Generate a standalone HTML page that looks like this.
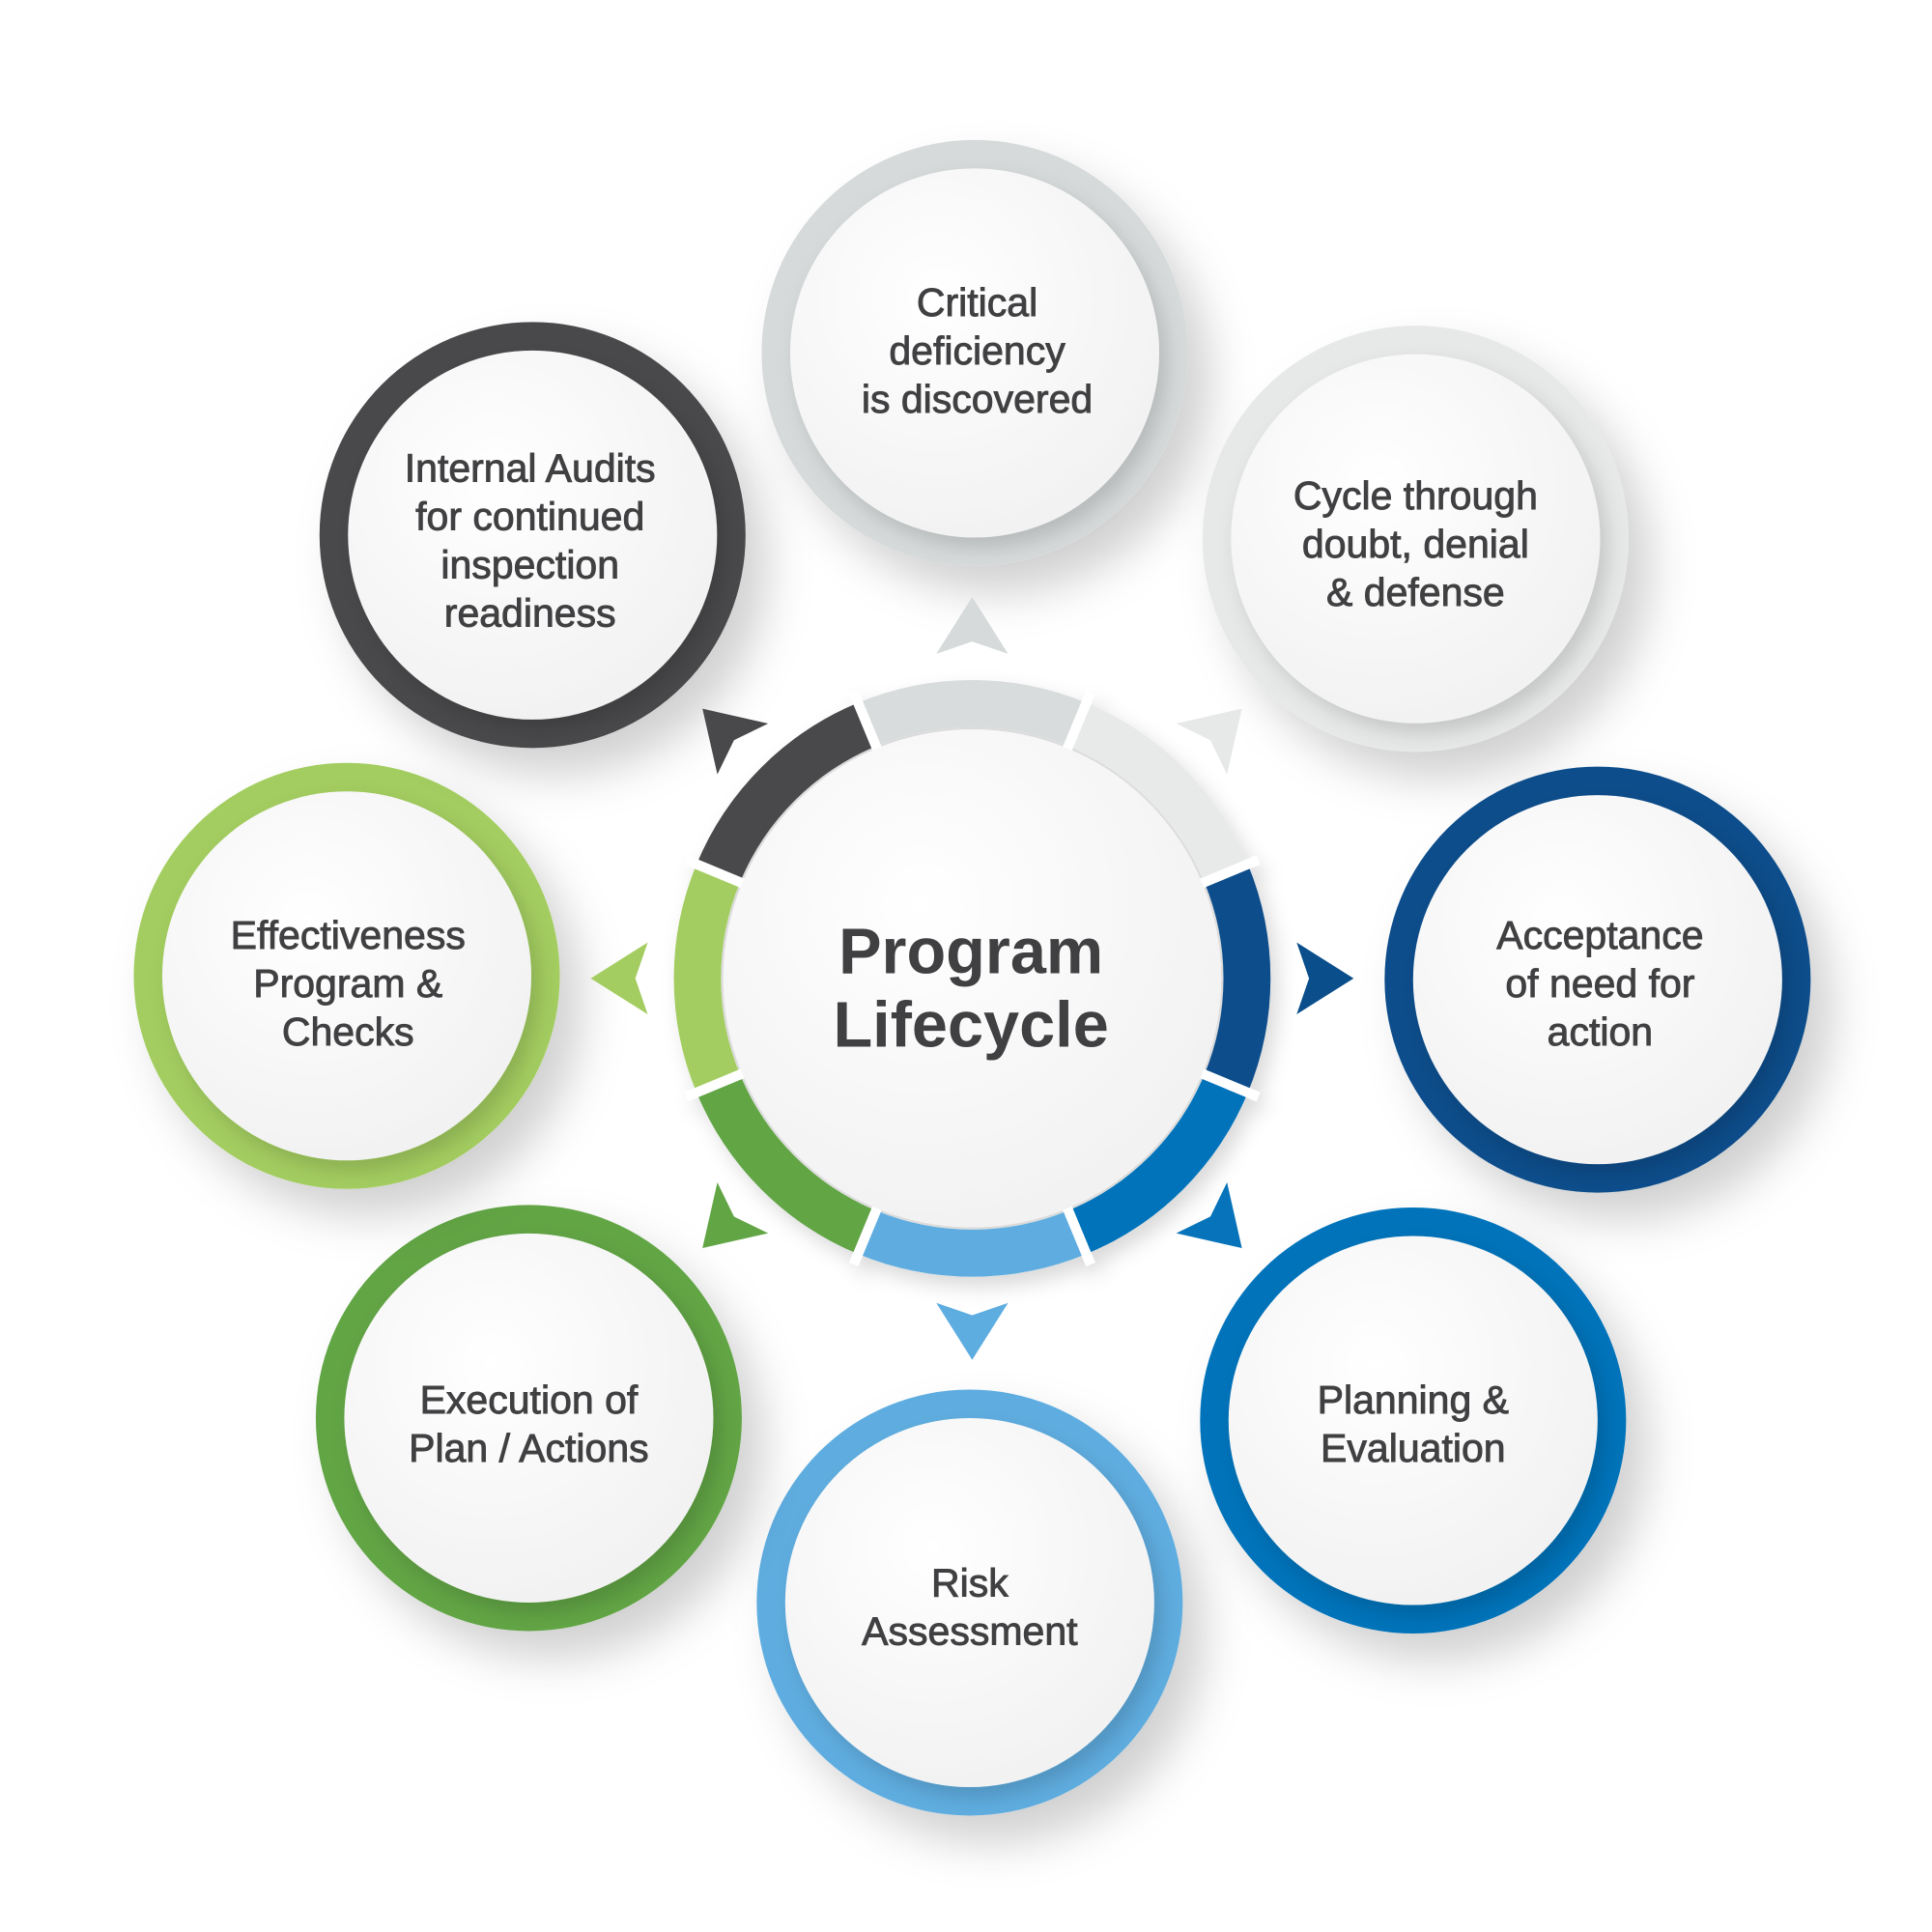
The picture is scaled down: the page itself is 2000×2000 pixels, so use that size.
<!DOCTYPE html>
<html><head><meta charset="utf-8"><style>
html,body{margin:0;padding:0;background:#fff;}
svg{display:block}
text{font-family:"Liberation Sans",sans-serif;fill:#404042;text-anchor:middle;}
.t{font-size:32px;stroke:#404042;stroke-width:0.7px;}
</style></head><body>
<svg width="2000" height="2000" viewBox="0 0 1560 1560" xmlns="http://www.w3.org/2000/svg">
<defs>
<filter id="sh" x="-40%" y="-40%" width="190%" height="190%">
<feDropShadow dx="18" dy="22" stdDeviation="18" flood-color="#000" flood-opacity="0.18"/>
</filter>
<filter id="sh2" x="-40%" y="-40%" width="190%" height="190%">
<feDropShadow dx="6" dy="8" stdDeviation="8" flood-color="#000" flood-opacity="0.15"/>
</filter>
<radialGradient id="wf" cx="40%" cy="35%" r="70%">
<stop offset="0" stop-color="#ffffff"/><stop offset="1" stop-color="#f1f1f1"/>
</radialGradient>
</defs>

<!-- outer circles -->
<g>
<circle cx="787" cy="285" r="172" fill="#d6dada" filter="url(#sh)"/>
<circle cx="787" cy="285" r="149" fill="url(#wf)" filter="url(#sh2)"/>
<circle cx="1143" cy="435" r="172" fill="#e7e8e8" filter="url(#sh)"/>
<circle cx="1143" cy="435" r="149" fill="url(#wf)" filter="url(#sh2)"/>
<circle cx="1290" cy="791" r="172" fill="#0a4e8b" filter="url(#sh)"/>
<circle cx="1290" cy="791" r="149" fill="url(#wf)" filter="url(#sh2)"/>
<circle cx="1141" cy="1147" r="172" fill="#0673ba" filter="url(#sh)"/>
<circle cx="1141" cy="1147" r="149" fill="url(#wf)" filter="url(#sh2)"/>
<circle cx="783" cy="1294" r="172" fill="#5eade0" filter="url(#sh)"/>
<circle cx="783" cy="1294" r="149" fill="url(#wf)" filter="url(#sh2)"/>
<circle cx="427" cy="1145" r="172" fill="#62a545" filter="url(#sh)"/>
<circle cx="427" cy="1145" r="149" fill="url(#wf)" filter="url(#sh2)"/>
<circle cx="280" cy="788" r="172" fill="#a3cd60" filter="url(#sh)"/>
<circle cx="280" cy="788" r="149" fill="url(#wf)" filter="url(#sh2)"/>
<circle cx="430" cy="432" r="172" fill="#49494b" filter="url(#sh)"/>
<circle cx="430" cy="432" r="149" fill="url(#wf)" filter="url(#sh2)"/>
</g>

<!-- center ring -->
<g transform="translate(785,790)" filter="url(#sh2)">
<circle r="200" fill="#ffffff"/>
<g fill="none" stroke-width="38">
<path d="M -84.9 -205.0 A 221.9 221.9 0 0 1 84.9 -205.0" stroke="#d8dcdc" transform="rotate(0)"/>
<path d="M -84.9 -205.0 A 221.9 221.9 0 0 1 84.9 -205.0" stroke="#e8e9e9" transform="rotate(45)"/>
<path d="M -84.9 -205.0 A 221.9 221.9 0 0 1 84.9 -205.0" stroke="#0a4e8b" transform="rotate(90)"/>
<path d="M -84.9 -205.0 A 221.9 221.9 0 0 1 84.9 -205.0" stroke="#0673ba" transform="rotate(135)"/>
<path d="M -84.9 -205.0 A 221.9 221.9 0 0 1 84.9 -205.0" stroke="#5eade0" transform="rotate(180)"/>
<path d="M -84.9 -205.0 A 221.9 221.9 0 0 1 84.9 -205.0" stroke="#62a545" transform="rotate(225)"/>
<path d="M -84.9 -205.0 A 221.9 221.9 0 0 1 84.9 -205.0" stroke="#a3cd60" transform="rotate(270)"/>
<path d="M -84.9 -205.0 A 221.9 221.9 0 0 1 84.9 -205.0" stroke="#49494b" transform="rotate(315)"/>
</g>
<!-- gaps -->
<g stroke="#fff" stroke-width="8">
<line x1="0" y1="-190" x2="0" y2="-250" transform="rotate(22.5)"/>
<line x1="0" y1="-190" x2="0" y2="-250" transform="rotate(67.5)"/>
<line x1="0" y1="-190" x2="0" y2="-250" transform="rotate(112.5)"/>
<line x1="0" y1="-190" x2="0" y2="-250" transform="rotate(157.5)"/>
<line x1="0" y1="-190" x2="0" y2="-250" transform="rotate(202.5)"/>
<line x1="0" y1="-190" x2="0" y2="-250" transform="rotate(247.5)"/>
<line x1="0" y1="-190" x2="0" y2="-250" transform="rotate(292.5)"/>
<line x1="0" y1="-190" x2="0" y2="-250" transform="rotate(337.5)"/>
</g>
<circle r="201" fill="url(#wf)"/>
</g>

<!-- arrowheads -->
<g transform="translate(785,790)">
<path d="M -29 -262 L 0 -308 L 29 -262 L 0 -272 Z" fill="#d6dada"/>
<path d="M -29 -262 L 0 -308 L 29 -262 L 0 -272 Z" fill="#e7e8e8" transform="rotate(45)"/>
<path d="M -29 -262 L 0 -308 L 29 -262 L 0 -272 Z" fill="#0a4e8b" transform="rotate(90)"/>
<path d="M -29 -262 L 0 -308 L 29 -262 L 0 -272 Z" fill="#0673ba" transform="rotate(135)"/>
<path d="M -29 -262 L 0 -308 L 29 -262 L 0 -272 Z" fill="#5eade0" transform="rotate(180)"/>
<path d="M -29 -262 L 0 -308 L 29 -262 L 0 -272 Z" fill="#62a545" transform="rotate(225)"/>
<path d="M -29 -262 L 0 -308 L 29 -262 L 0 -272 Z" fill="#a3cd60" transform="rotate(270)"/>
<path d="M -29 -262 L 0 -308 L 29 -262 L 0 -272 Z" fill="#49494b" transform="rotate(315)"/>
</g>

<!-- center text -->
<text x="784" y="786" style="font-size:52px;font-weight:bold;">Program</text>
<text x="784" y="845" style="font-size:52px;font-weight:bold;">Lifecycle</text>

<!-- labels -->
<g class="t">
<text class="t" x="789" y="255">Critical</text>
<text class="t" x="789" y="294">deficiency</text>
<text class="t" x="789" y="333">is discovered</text>

<text class="t" x="1143" y="411">Cycle through</text>
<text class="t" x="1143" y="450">doubt, denial</text>
<text class="t" x="1143" y="489">&amp; defense</text>

<text class="t" x="1292" y="766">Acceptance</text>
<text class="t" x="1292" y="805">of need for</text>
<text class="t" x="1292" y="844">action</text>

<text class="t" x="1141" y="1141">Planning &amp;</text>
<text class="t" x="1141" y="1180">Evaluation</text>

<text class="t" x="783" y="1289">Risk</text>
<text class="t" x="783" y="1328">Assessment</text>

<text class="t" x="427" y="1141">Execution of</text>
<text class="t" x="427" y="1180">Plan / Actions</text>

<text class="t" x="281" y="766">Effectiveness</text>
<text class="t" x="281" y="805">Program &amp;</text>
<text class="t" x="281" y="844">Checks</text>

<text class="t" x="428" y="389">Internal Audits</text>
<text class="t" x="428" y="428">for continued</text>
<text class="t" x="428" y="467">inspection</text>
<text class="t" x="428" y="506">readiness</text>
</g>
</svg>
</body></html>
